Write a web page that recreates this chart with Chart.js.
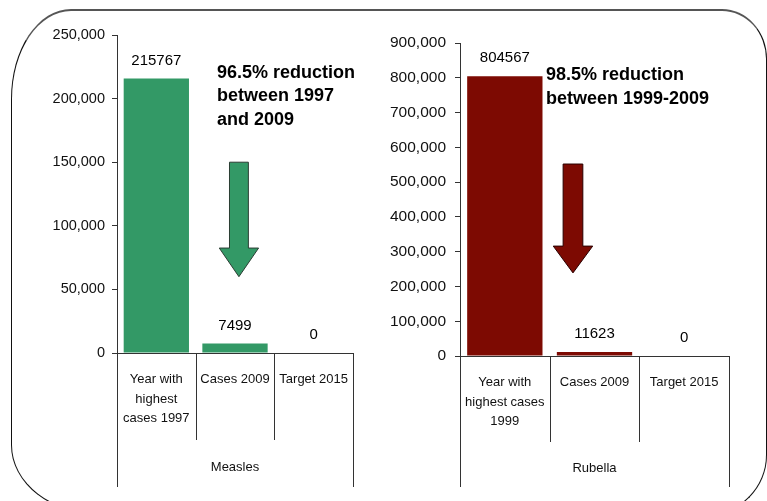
<!DOCTYPE html>
<html><head><meta charset="utf-8">
<script src="https://cdn.jsdelivr.net/npm/chart.js@4"></script>
<style>
html,body{margin:0;padding:0;background:#fff;}
body{width:767px;height:501px;position:relative;overflow:hidden;}
#frame{position:absolute;left:11px;top:9px;width:756px;height:506px;box-sizing:border-box;border:1.5px solid #111;border-top:2.5px solid #555;border-radius:60px 45px 60px 90px / 90px 50px 60px 70px;pointer-events:none;}
#c1{position:absolute;left:0;top:0;}
#c2{position:absolute;left:384px;top:0;}
</style></head><body>
<canvas id="c1" width="384" height="501"></canvas>
<canvas id="c2" width="383" height="501"></canvas>
<div id="frame"></div>
<script>
const measlesCategories = [["Year with","highest","cases 1997"], "Cases 2009", "Target 2015"];
const measlesValues = [215767, 7499, 0];
const measlesTicks = [0, 50000, 100000, 150000, 200000, 250000];
const measlesNote = ["96.5% reduction", "between 1997", "and 2009"];

const rubellaCategories = [["Year with","highest cases","1999"], "Cases 2009", "Target 2015"];
const rubellaValues = [804567, 11623, 0];
const rubellaTicks = [0, 100000, 200000, 300000, 400000, 500000, 600000, 700000, 800000, 900000];
const rubellaNote = ["98.5% reduction", "between 1999-2009"];

const FONT = "'Liberation Sans', Arial, sans-serif";
Chart.defaults.font.family = FONT;
Chart.defaults.color = '#111';

function decorPlugin(o) {
  return {
    id: 'decor',
    afterDraw(chart) {
      const ctx = chart.ctx;
      const xs = chart.scales.x, ys = chart.scales.y;
      const n = chart.data.labels.length;
      const p0 = xs.getPixelForValue(0), p1 = xs.getPixelForValue(1);
      const w = p1 - p0;
      ctx.save();
      // category divider lines
      ctx.strokeStyle = '#333';
      ctx.lineWidth = 1;
      for (let i = 0; i <= n; i++) {
        const px = Math.round(p0 - w / 2 + i * w) + 0.5;
        const bottom = (i === 0 || i === n) ? o.outerBottom : o.innerBottom;
        ctx.beginPath();
        ctx.moveTo(px, ys.bottom);
        ctx.lineTo(px, bottom);
        ctx.stroke();
      }
      // group label
      ctx.fillStyle = '#111';
      ctx.font = '13px ' + FONT;
      ctx.textAlign = 'center';
      ctx.textBaseline = 'middle';
      ctx.fillText(o.group, (xs.left + xs.right) / 2, o.groupY);

      // data labels
      const meta = chart.getDatasetMeta(0);
      const vals = chart.data.datasets[0].data;
      ctx.fillStyle = '#000';
      ctx.font = '15px ' + FONT;
      meta.data.forEach((bar, i) => {
        ctx.fillText(String(vals[i]), bar.x, bar.y - 18);
      });

      // arrow
      const a = o.arrow;
      const xc = p0 + a.xc * w;
      const sh = a.shaftHalf * w, hh = a.headHalf * w;
      const yt = ys.getPixelForValue(a.top), yb = ys.getPixelForValue(a.headBase), ytip = ys.getPixelForValue(a.tip);
      ctx.beginPath();
      ctx.moveTo(xc - sh, yt);
      ctx.lineTo(xc + sh, yt);
      ctx.lineTo(xc + sh, yb);
      ctx.lineTo(xc + hh, yb);
      ctx.lineTo(xc, ytip);
      ctx.lineTo(xc - hh, yb);
      ctx.lineTo(xc - sh, yb);
      ctx.closePath();
      ctx.fillStyle = a.color;
      ctx.fill();
      ctx.strokeStyle = a.stroke;
      ctx.lineWidth = 1;
      ctx.stroke();

      // note text
      ctx.fillStyle = '#000';
      ctx.font = 'bold 18px ' + FONT;
      ctx.textAlign = 'left';
      o.note.forEach((t, i) => ctx.fillText(t, o.noteX, o.noteY + i * o.noteStep));
      ctx.restore();
    }
  };
}

function makeChart(id, cats, vals, ticks, color, L, decor) {
  return new Chart(document.getElementById(id), {
    type: 'bar',
    data: {
      labels: cats,
      datasets: [{ data: vals, backgroundColor: color, borderWidth: 0,
        barPercentage: L.barPct, categoryPercentage: 1 }]
    },
    options: {
      responsive: false,
      animation: false,
      events: [],
      layout: { padding: { left: 0, right: L.padRight, top: L.padTop, bottom: 0 } },
      plugins: { legend: { display: false }, tooltip: { enabled: false } },
      scales: {
        x: {
          grid: { display: false, drawTicks: false },
          border: { display: true, color: '#333', width: 1 },
          ticks: { font: { size: 13, lineHeight: 1.5 }, color: '#111', padding: 17, maxRotation: 0, autoSkip: false },
          afterFit: s => { s.height = L.xHeight; }
        },
        y: {
          min: 0, max: ticks[ticks.length - 1],
          afterBuildTicks: s => { s.ticks = ticks.map(v => ({ value: v })); },
          grid: { display: true, drawOnChartArea: false, drawTicks: true, tickLength: 5, color: '#333' },
          border: { display: true, color: '#333', width: 1 },
          ticks: { font: { size: L.tickSize }, color: '#111', padding: L.tickPad,
            callback: v => Number(v).toLocaleString('en-US') },
          afterFit: s => { s.width = L.yWidth; }
        }
      }
    },
    plugins: [decorPlugin(decor)]
  });
}

makeChart('c1', measlesCategories, measlesValues, measlesTicks, '#339966',
  { barPct: 0.83, padRight: 31, padTop: 35, xHeight: 148, yWidth: 117, tickSize: 14.5, tickPad: 7 },
  { outerBottom: 487, innerBottom: 440, group: 'Measles', groupY: 467,
    arrow: { xc: 1.05, shaftHalf: 0.12, headHalf: 0.25, top: 150000, headBase: 82500, tip: 60000, color: '#339966', stroke: '#2b3d33' },
    note: measlesNote, noteX: 217, noteY: 73, noteStep: 23.5 });

makeChart('c2', rubellaCategories, rubellaValues, rubellaTicks, '#7d0a02',
  { barPct: 0.84, padRight: 38, padTop: 43, xHeight: 145, yWidth: 76, tickSize: 15.5, tickPad: 9 },
  { outerBottom: 487, innerBottom: 442, group: 'Rubella', groupY: 468,
    arrow: { xc: 0.76, shaftHalf: 0.11, headHalf: 0.22, top: 552000, headBase: 316000, tip: 239000, color: '#7d0a02', stroke: '#2a0000' },
    note: rubellaNote, noteX: 162, noteY: 75, noteStep: 24 });
</script>
</body></html>
